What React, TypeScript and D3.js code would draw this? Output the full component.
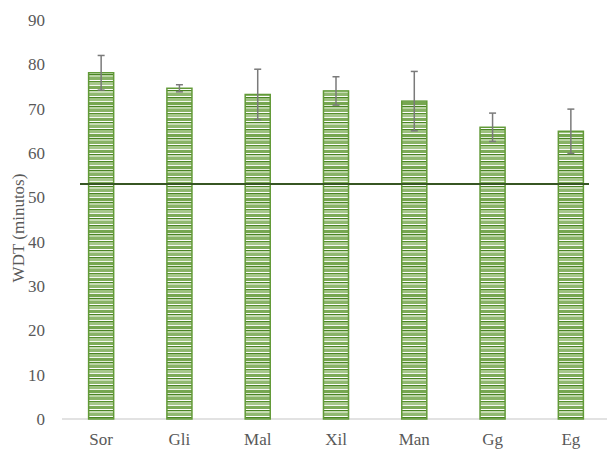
import React from 'react'
import * as d3 from 'd3'

const categories = ['Sor', 'Gli', 'Mal', 'Xil', 'Man', 'Gg', 'Eg']
const means = [78.1, 74.6, 73.2, 74.0, 71.7, 65.8, 64.9]
const errors = [3.9, 0.8, 5.7, 3.2, 6.7, 3.2, 5.0]
const refValue = 53
const yTicks = [0, 10, 20, 30, 40, 50, 60, 70, 80, 90]

const W = 607
const H = 449
const margin = { left: 62, right: -3, top: 20, bottom: 30 }

// stripe pattern rows: [y, height, colour]
const stripes: [number, number, string][] = [
  [0, 1, '#ffffff'],
  [1, 1, '#4a8424'],
  [2, 3, '#9cc17e'],
  [5, 1, '#f2f7ee'],
  [6, 3, '#76a650'],
  [9, 1, '#e3eeda'],
  [10, 1, '#4a8424'],
  [11, 2, '#b9d3a3'],
  [13, 3, '#88b266'],
  [16, 1, '#ffffff'],
  [17, 1, '#568f2d'],
  [18, 3, '#a6c78b'],
  [21, 1, '#f2f7ee'],
  [22, 3, '#7dab58'],
  [25, 1, '#ffffff'],
  [26, 1, '#4a8424'],
  [27, 2, '#c6dbb3'],
  [29, 3, '#90b870'],
]

const font = "'Liberation Serif', 'Times New Roman', Times, serif"

export default function App() {
  const x = d3.scaleBand<string>()
    .domain(categories)
    .range([margin.left, W - margin.right])
    .paddingInner(0.68)
    .paddingOuter(0.34)
  const y = d3.scaleLinear().domain([0, 90]).range([H - margin.bottom, margin.top])
  const bw = x.bandwidth()

  return (
    <svg width={W} height={H} fontFamily={font} fontSize={17} fill="#595959"
      style={{ position: 'absolute', left: 0, top: 0, background: '#fff' }}>
      <defs>
        <pattern id="stripes" patternUnits="userSpaceOnUse" width={10} height={32}>
          {stripes.map(([sy, sh, c], i) => (
            <rect key={i} x={0} y={sy} width={10} height={sh} fill={c} />
          ))}
        </pattern>
      </defs>

      {yTicks.map(t => (
        <text key={t} x={45} y={y(t)} dy="0.35em" textAnchor="end">{t}</text>
      ))}

      <text transform={`translate(18,${228}) rotate(-90)`} textAnchor="middle" dy="0.35em">WDT (minutos)</text>

      <line x1={margin.left} x2={W} y1={y(0)} y2={y(0)} stroke="#d9d9d9" strokeWidth={1.5} />

      {categories.map((c, i) => (
        <g key={c}>
          <rect x={x(c)!} y={y(means[i])} width={bw} height={y(0) - y(means[i])}
            fill="url(#stripes)" stroke="#629a38" strokeWidth={1.5} />
          <text x={x(c)! + bw / 2} y={439} dy="0.35em" textAnchor="middle">{c}</text>
        </g>
      ))}

      <line x1={80} x2={589} y1={y(refValue)} y2={y(refValue)} stroke="#375623" strokeWidth={2} />

      {categories.map((c, i) => {
        const cx = x(c)! + bw / 2
        const hi = y(means[i] + errors[i])
        const lo = y(means[i] - errors[i])
        return (
          <g key={c} stroke="#7a7a7a" strokeWidth={1.5}>
            <line x1={cx} x2={cx} y1={hi} y2={lo} />
            <line x1={cx - 3.5} x2={cx + 3.5} y1={hi} y2={hi} />
            <line x1={cx - 3.5} x2={cx + 3.5} y1={lo} y2={lo} />
          </g>
        )
      })}
    </svg>
  )
}
